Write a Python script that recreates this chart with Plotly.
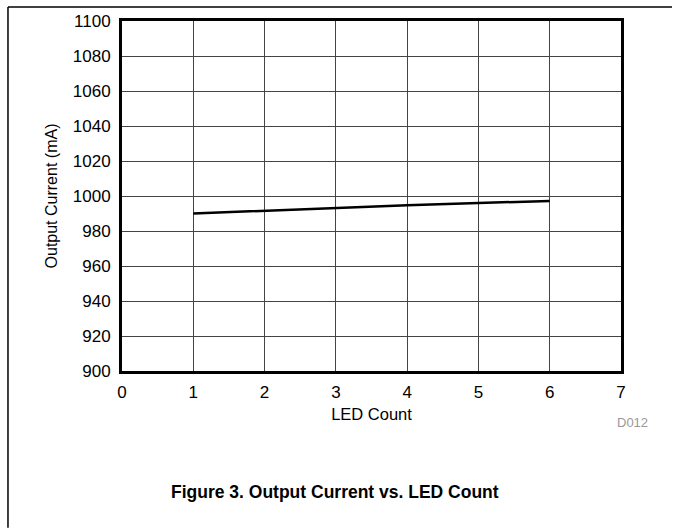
import plotly.graph_objects as go

# LED count vs output current
led_count = [1, 2, 3, 4, 5, 6]
output_current_ma = [990.0, 991.7, 993.4, 994.7, 996.0, 997.2]

x_ticks = [0, 1, 2, 3, 4, 5, 6, 7]
y_ticks = [900, 920, 940, 960, 980, 1000, 1020, 1040, 1060, 1080, 1100]

FONT = "Liberation Sans, Arial, sans-serif"

fig = go.Figure()
fig.add_trace(go.Scatter(
    x=led_count,
    y=output_current_ma,
    mode="lines",
    line=dict(color="black", width=2.5),
    showlegend=False,
))

fig.update_layout(
    width=673,
    height=529,
    margin=dict(l=122, r=52, t=18, b=158),
    plot_bgcolor="white",
    paper_bgcolor="white",
    font=dict(family=FONT, size=17, color="black"),
    xaxis=dict(
        range=[0, 7],
        tickvals=x_ticks,
        showgrid=True,
        gridcolor="#444444",
        gridwidth=1,
        zeroline=False,
        showline=True,
        linecolor="black",
        linewidth=3,
        mirror=True,
        ticks="",
        ticklabelstandoff=4,
        title=dict(text="LED Count", font=dict(size=16.5), standoff=8),
    ),
    yaxis=dict(
        range=[900, 1100],
        tickvals=y_ticks,
        showgrid=True,
        gridcolor="#444444",
        gridwidth=1,
        zeroline=False,
        showline=True,
        linecolor="black",
        linewidth=3,
        mirror=True,
        ticks="",
        ticklabelstandoff=5,
        title=dict(text="Output Current (mA)", font=dict(size=16), standoff=12),
    ),
)

# page frame lines (top and left)
fig.add_shape(type="line", xref="paper", yref="paper",
              x0=-0.2285, x1=1.1022, y0=1.0397, y1=1.0397,
              line=dict(color="black", width=1.5))
fig.add_shape(type="line", xref="paper", yref="paper",
              x0=-0.2285, x1=-0.2285, y0=1.0397, y1=-0.4476,
              line=dict(color="black", width=1.5))

fig.add_annotation(text="D012", xref="paper", yref="paper",
                   x=1.058, y=-0.1473, xanchor="right", yanchor="middle",
                   showarrow=False, font=dict(size=13, color="#999999"))
fig.add_annotation(text="<b>Figure 3. Output Current vs. LED Count</b>",
                   xref="paper", yref="paper", x=0.4269, y=-0.3456,
                   xanchor="center", yanchor="middle", showarrow=False,
                   font=dict(size=17.5, color="black"))

# drop the default page margin so the figure sits at the window origin
fig.write_html("out.html", config={"displayModeBar": False},
               post_script="document.body.style.margin='0';")
